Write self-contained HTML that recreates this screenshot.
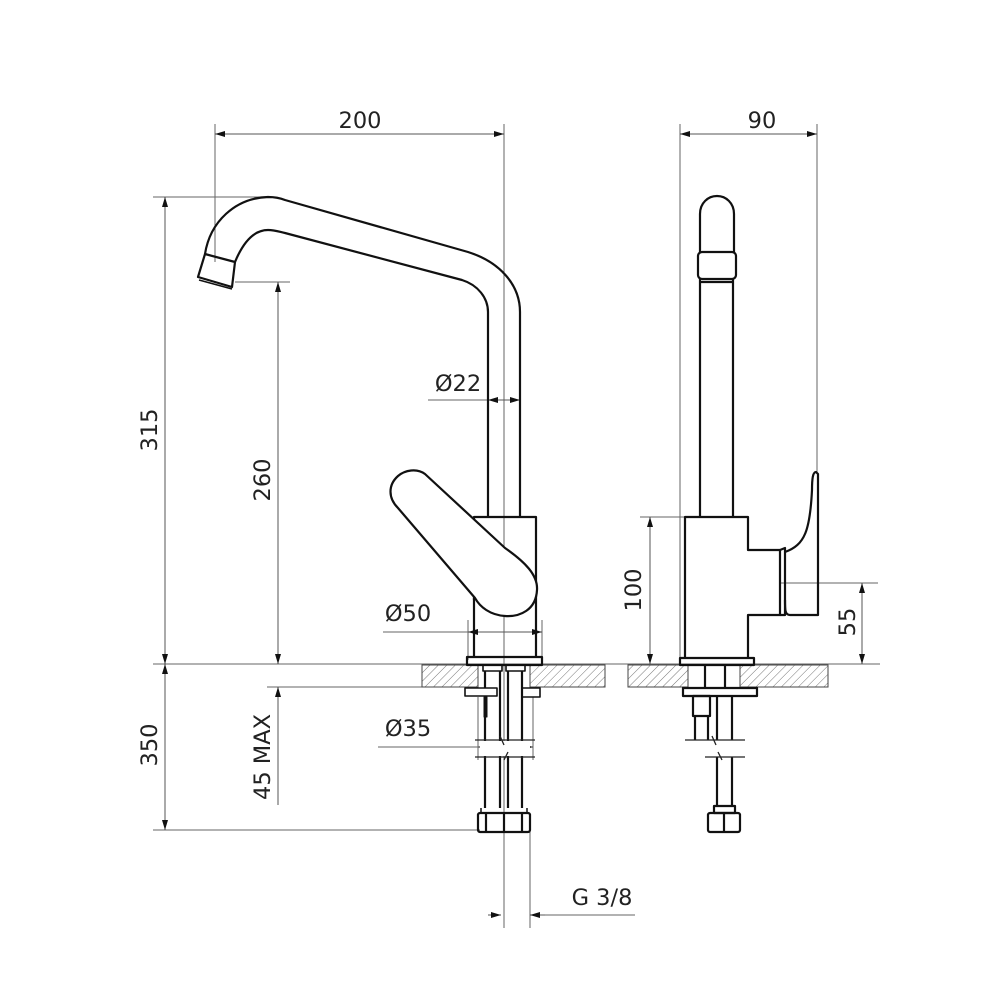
<!DOCTYPE html>
<html><head><meta charset="utf-8"><style>
html,body{margin:0;padding:0;background:#fff;}
svg{display:block}
text{font-family:"DejaVu Sans","Liberation Sans",sans-serif;font-size:22.5px;fill:#222}
</style></head><body>
<svg width="1000" height="1000" viewBox="0 0 1000 1000" xmlns="http://www.w3.org/2000/svg">
<defs>
<pattern id="h" width="6" height="6" patternUnits="userSpaceOnUse" patternTransform="rotate(45)">
<line x1="0" y1="0" x2="0" y2="6" stroke="#777" stroke-width="1"/>
</pattern>
<marker id="a" viewBox="0 0 10 6" refX="10" refY="3" markerWidth="10" markerHeight="6" orient="auto-start-reverse" markerUnits="userSpaceOnUse">
<path d="M0,0 L10,3 L0,6 Z" fill="#111"/>
</marker>
</defs>

<g stroke="#666" stroke-width="1" fill="none">
<line x1="215" y1="124" x2="215" y2="262"/>
<line x1="504" y1="124" x2="504" y2="928"/>
<line x1="153" y1="197" x2="272" y2="197"/>
<line x1="235" y1="282" x2="290" y2="282"/>
<line x1="153" y1="664" x2="880" y2="664"/>
<line x1="267" y1="687" x2="478" y2="687"/>
<line x1="153" y1="830" x2="480" y2="830"/>
<line x1="530" y1="820" x2="530" y2="928"/>
<line x1="468" y1="620" x2="468" y2="660"/>
<line x1="542" y1="620" x2="542" y2="660"/>
<line x1="478" y1="697" x2="478" y2="760"/>
<line x1="533" y1="697" x2="533" y2="760"/>
<line x1="680" y1="124" x2="680" y2="663"/>
<line x1="817" y1="124" x2="817" y2="472"/>
<line x1="640" y1="517" x2="685" y2="517"/>
<line x1="780" y1="583" x2="878" y2="583"/>
<line x1="428" y1="400" x2="488" y2="400"/>
<line x1="383" y1="632" x2="468" y2="632"/>
<line x1="378" y1="747" x2="478" y2="747"/>
<line x1="530" y1="915" x2="635" y2="915"/>
</g>
<g stroke="#555" stroke-width="1" fill="none" marker-start="url(#a)" marker-end="url(#a)">
<line x1="215" y1="134" x2="504" y2="134"/>
<line x1="680" y1="134" x2="817" y2="134"/>
<line x1="165" y1="197" x2="165" y2="664"/>
<line x1="278" y1="282" x2="278" y2="664"/>
<line x1="165" y1="664" x2="165" y2="830"/>
<line x1="650" y1="517" x2="650" y2="664"/>
<line x1="862" y1="583" x2="862" y2="664"/>
<line x1="488" y1="400" x2="520" y2="400"/>
<line x1="468" y1="632" x2="542" y2="632"/>
<line x1="478" y1="747" x2="533" y2="747"/>
</g>
<g stroke="#555" stroke-width="1" fill="none">
<line x1="278" y1="687" x2="278" y2="805" marker-start="url(#a)"/>
<line x1="488" y1="915" x2="501" y2="915" marker-end="url(#a)"/>
<line x1="545" y1="915" x2="530" y2="915" marker-end="url(#a)"/>
</g>

<g stroke="#444" stroke-width="1">
<rect x="422" y="665" width="56" height="22" fill="url(#h)"/>
<rect x="530" y="665" width="75" height="22" fill="url(#h)"/>
<rect x="628" y="665" width="60" height="22" fill="url(#h)"/>
<rect x="740" y="665" width="88" height="22" fill="url(#h)"/>
</g>

<g stroke="#111" stroke-width="2.2" fill="none" stroke-linejoin="round">
<path d="M205,254 C210,222 235,198 268,197 C275,197 280,198 285,200 L468,252 C500,262 520,285 520,312 L520,517"/>
<path d="M235,262 C242,245 252,230 268,230 C275,230 280,232 285,233 L462,280 C478,285 488,298 488,312 L488,517"/>
<path d="M205,254 L235,262 L232,287 L198,277 Z"/>
<line x1="199" y1="280" x2="232" y2="289" stroke-width="1.5"/>
<path d="M474,600 L474,517 L536,517 L536,657"/>
<line x1="474" y1="598" x2="474" y2="657"/>
<path d="M398,508 C388,498 388,485 398,476 C405,470 417,468 425,474 L505,548 C525,562 538,575 537,590 C536,610 520,617 505,616 C490,615 480,607 475,598 Z" fill="#fff"/>
<rect x="467" y="657" width="75" height="8"/>
<rect x="483" y="665" width="19" height="6" stroke-width="1.6"/>
<rect x="506" y="665" width="19" height="6" stroke-width="1.6"/>
<line x1="485" y1="671" x2="485" y2="808"/><line x1="500" y1="671" x2="500" y2="808"/>
<line x1="508" y1="671" x2="508" y2="808"/><line x1="522" y1="671" x2="522" y2="808"/>
<rect x="465" y="688" width="32" height="8" stroke-width="1.6" fill="#fff"/>
<rect x="522" y="688" width="18" height="9" stroke-width="1.6"/>
<rect x="484" y="697" width="3" height="20" fill="#111" stroke-width="1"/>
<path d="M481,808 L481,813 M527,808 L527,813" stroke-width="1.5"/>
<rect x="478" y="813" width="52" height="19" rx="2"/>
<line x1="486" y1="813" x2="486" y2="832"/><line x1="504" y1="813" x2="504" y2="832"/><line x1="522" y1="813" x2="522" y2="832"/>
</g>
<g stroke="#222" stroke-width="1.3" fill="none">
<line x1="475" y1="740" x2="535" y2="740"/><line x1="475" y1="757" x2="535" y2="757"/>
<rect x="480" y="741" width="50" height="15" fill="#fff" stroke="none"/>
<path d="M500,736 L504,745 M508,752 L504,760"/>
</g>

<g stroke="#111" stroke-width="2.2" fill="none" stroke-linejoin="round">
<path d="M700,252 L700,214 C700,203 708,196 717,196 C726,196 734,203 734,214 L734,252"/>
<rect x="698" y="252" width="38" height="27" rx="4"/>
<line x1="700" y1="282" x2="734" y2="282"/>
<line x1="700" y1="279" x2="700" y2="517"/><line x1="733" y1="279" x2="733" y2="517"/>
<path d="M685,658 L685,517 L748,517 L748,550 L780,550 L780,615 L748,615 L748,658"/>
<path d="M780,550 L785,548 L785,615 L780,615"/>
<path d="M785,552 C805,545 810,530 812,490 C812,478 813,472 816,472 L818,474 L818,615 L790,615 C785,615 785,610 785,600"/>
<rect x="680" y="658" width="74" height="7"/>
<rect x="683" y="688" width="74" height="8"/>
<line x1="705" y1="665" x2="705" y2="688"/><line x1="725" y1="665" x2="725" y2="688"/>
<rect x="693" y="696" width="17" height="20"/>
<line x1="695" y1="716" x2="695" y2="740"/><line x1="708" y1="716" x2="708" y2="740"/>
<line x1="717" y1="696" x2="717" y2="740"/><line x1="732" y1="696" x2="732" y2="740"/>
<line x1="717" y1="757" x2="717" y2="806"/><line x1="732" y1="757" x2="732" y2="806"/>
<rect x="714" y="806" width="21" height="7"/>
<rect x="708" y="813" width="32" height="19" rx="2"/>
<line x1="724" y1="813" x2="724" y2="832"/>
</g>
<g stroke="#222" stroke-width="1.3" fill="none">
<line x1="685" y1="740" x2="745" y2="740"/><line x1="705" y1="757" x2="745" y2="757"/>
<path d="M712,736 L716,745 M718,752 L722,760"/>
</g>

<text x="360" y="128" text-anchor="middle">200</text>
<text x="762" y="128" text-anchor="middle">90</text>
<text x="458" y="391" text-anchor="middle">Ø22</text>
<text x="408" y="621" text-anchor="middle">Ø50</text>
<text x="408" y="736" text-anchor="middle">Ø35</text>
<text x="602" y="905" text-anchor="middle">G 3/8</text>
<text transform="translate(157,430) rotate(-90)" text-anchor="middle">315</text>
<text transform="translate(270,480) rotate(-90)" text-anchor="middle">260</text>
<text transform="translate(157,745) rotate(-90)" text-anchor="middle">350</text>
<text transform="translate(270,757) rotate(-90)" text-anchor="middle">45 MAX</text>
<text transform="translate(641,590) rotate(-90)" text-anchor="middle">100</text>
<text transform="translate(855,622) rotate(-90)" text-anchor="middle">55</text>
</svg>
</body></html>
